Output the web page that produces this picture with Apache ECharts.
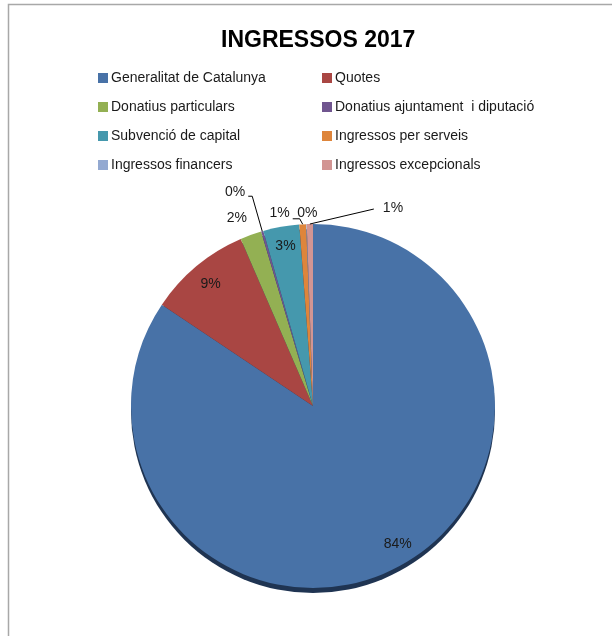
<!DOCTYPE html>
<html>
<head>
<meta charset="utf-8">
<script src="https://cdn.jsdelivr.net/npm/echarts@6/dist/echarts.min.js"></script>
<style>
html,body{margin:0;padding:0;background:#fff;}
#chart{width:612px;height:636px;}
</style>
</head>
<body>
<div id="chart"></div>
<script>
const titleText = 'INGRESSOS 2017';
const categories = [
  'Generalitat de Catalunya',
  'Quotes',
  'Donatius particulars',
  'Donatius ajuntament  i diputació',
  'Subvenció de capital',
  'Ingressos per serveis',
  'Ingressos financers',
  'Ingressos excepcionals'
];
const values = [84.4, 9.1, 1.9, 0.2, 3.2, 0.6, 0.05, 0.55];
const colors = ['#4872a7', '#a94643', '#93b053', '#70558f', '#4598ad', '#de853b', '#93a9d1', '#d29593'];

const R = 182;
const CX = 313, CY = 406;

// label placement styling per slice (offsets relative to the library-computed anchor)
const labelCfg = [
  {position: 'inside', dx: 8, dy: -6},
  {position: 'inside', dx: 2, dy: 3},
  {position: 'outside', off: [-14, -17], align: 'center'},
  {position: 'outside', off: [-17, -39], align: 'right', line: [[-10, -35], [-14, -35]]},
  {position: 'inside', dx: 1, dy: 1},
  {position: 'outside', off: [-13, -11.5], align: 'right', line: [[-3, -5.5], [-10, -5.5]]},
  {position: 'outside', off: [1, -11], align: 'center'},
  {position: 'outside', off: [73, -16], align: 'left', line: [[64, -15]]}
];

const chart = echarts.init(document.getElementById('chart'), null, {renderer: 'canvas'});

const mainData = categories.map((n, i) => ({name: n, value: values[i], itemStyle: {color: colors[i]}}));
const labelData = categories.map((n, i) => {
  const c = labelCfg[i];
  return {
    name: n, value: values[i],
    label: {position: c.position},
    labelLine: {show: !!c.line, length: 8, length2: 4}
  };
});

const leftNames = categories.filter((_, i) => i % 2 === 0);
const rightNames = categories.filter((_, i) => i % 2 === 1);
const legendBase = {
  orient: 'vertical', top: 66, itemWidth: 10, itemHeight: 10, itemGap: 15,
  icon: 'rect', selectedMode: false,
  textStyle: {fontFamily: 'Liberation Sans', fontSize: 14, color: '#1a1a1a', padding: [0, 0, 0, -2]}
};

chart.setOption({
  backgroundColor: '#fff',
  animation: false,
  color: colors,
  title: {
    text: titleText, left: 216, top: 24,
    textStyle: {fontFamily: 'Liberation Sans', fontWeight: 'bold', fontSize: 23, color: '#000'}
  },
  graphic: [{
    type: 'rect', shape: {x: 8.5, y: 4.5, width: 800, height: 800},
    style: {fill: 'none', stroke: '#a8a8a8', lineWidth: 1.5}, silent: true, z: -1
  }],
  legend: [
    Object.assign({}, legendBase, {left: 93, data: leftNames}),
    Object.assign({}, legendBase, {left: 317, data: rightNames})
  ],
  series: [
    {
      type: 'pie', radius: R, center: [CX, CY + 5], silent: true,
      data: [{name: 'shadow', value: 1, itemStyle: {color: '#1f3452'}}],
      label: {show: false}, labelLine: {show: false}, z: 1
    },
    {
      type: 'pie', radius: R, center: [CX, CY], startAngle: 90, clockwise: true,
      silent: true, avoidLabelOverlap: false,
      data: mainData,
      label: {show: false}, labelLine: {show: false},
      itemStyle: {borderWidth: 0}, z: 2
    },
    {
      type: 'pie', radius: [R - 44, R], center: [CX, CY], startAngle: 90, clockwise: true,
      silent: true, avoidLabelOverlap: false, percentPrecision: 0,
      data: labelData,
      itemStyle: {color: 'rgba(0,0,0,0)', borderWidth: 0},
      label: {show: true, formatter: '{d}%', fontFamily: 'Liberation Sans', fontSize: 14, color: '#1a1a1a'},
      labelLine: {lineStyle: {color: '#000', width: 1}},
      labelLayout: function (p) {
        const c = labelCfg[p.dataIndex];
        if (c.position === 'inside') {
          return {dx: c.dx, dy: c.dy, hideOverlap: false};
        }
        const e = (p.labelLinePoints && p.labelLinePoints[0]) ||
          [p.labelRect.x + p.labelRect.width / 2, p.labelRect.y + p.labelRect.height];
        const res = {
          x: e[0] + c.off[0], y: e[1] + c.off[1],
          align: c.align, verticalAlign: 'middle', hideOverlap: false
        };
        if (c.line) {
          res.labelLinePoints = [[e[0], e[1]]].concat(c.line.map(q => [e[0] + q[0], e[1] + q[1]]));
        }
        return res;
      },
      z: 3
    }
  ]
});
</script>
</body>
</html>
